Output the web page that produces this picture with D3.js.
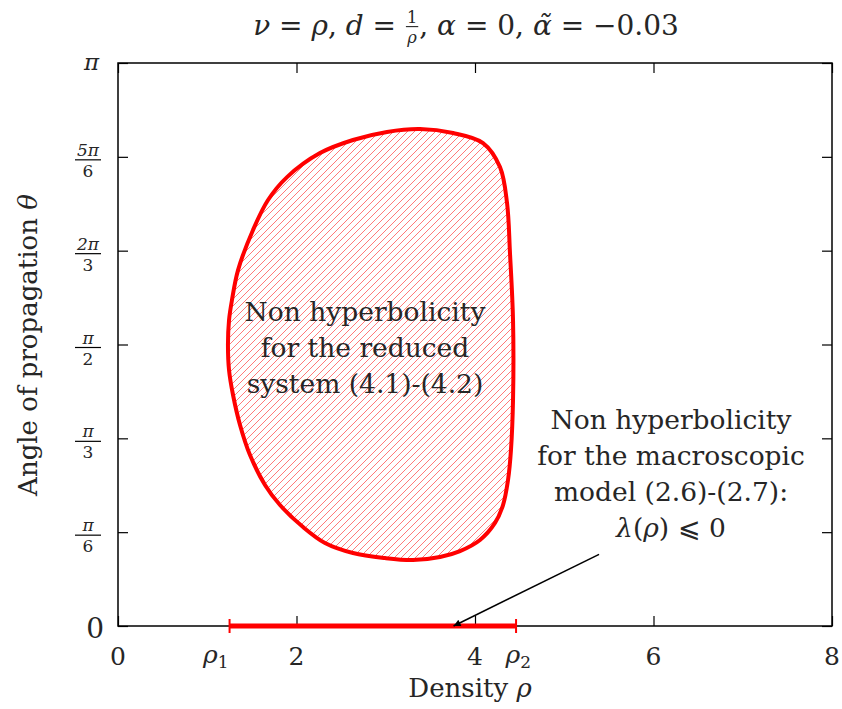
<!DOCTYPE html>
<html>
<head>
<meta charset="utf-8">
<script src="https://cdn.jsdelivr.net/npm/d3@7"></script>
<style>
  body { margin: 0; background: #fff; }
  text { font-family: "DejaVu Serif", serif; fill: #262626; white-space: pre; }
</style>
</head>
<body>
<script>
// ticks
const rhoTicks = [0, 2, 4, 6, 8]
const thetaTicks = [0, 1, 2, 3, 4, 5, 6].map(k => k * Math.PI / 6)
const thetaNum = ['0', 'π', 'π', 'π', '2π', '5π', 'π']
const thetaDen = ['', '6', '3', '2', '3', '6', '']

// boundary of the non hyperbolic region (rho, theta in rad)
const regionRho = [1.232, 1.244, 1.277, 1.345, 1.513, 1.681, 1.894, 2.263, 2.633, 3.014, 3.384, 3.754,
  4.090, 4.280, 4.359, 4.392, 4.426, 4.426, 4.403, 4.370, 4.314, 4.224, 4.056, 3.832,
  3.608, 3.305, 2.992, 2.633, 2.319, 2.073, 1.815, 1.647, 1.479, 1.367, 1.289, 1.244]
const regionTheta = [1.568, 1.707, 1.819, 1.986, 2.210, 2.377, 2.505, 2.639, 2.712, 2.757, 2.773, 2.751,
  2.695, 2.561, 2.360, 2.081, 1.707, 1.261, 0.982, 0.815, 0.675, 0.575, 0.480, 0.418,
  0.385, 0.368, 0.379, 0.407, 0.463, 0.552, 0.675, 0.787, 0.954, 1.122, 1.289, 1.428]

// lambda(rho) <= 0 interval
const barRho = [1.25, 4.46]
const barSubs = ['1', '2']

const arrowFrom = [5.39, 0.40]
const arrowTo = [3.76, 0]

const regionText = ['Non hyperbolicity', 'for the reduced', 'system (4.1)-(4.2)']
const noteText = ['Non hyperbolicity', 'for the macroscopic', 'model (2.6)-(2.7):']

const W = 842, H = 709
const svg = d3.select('body').append('svg').attr('width', W).attr('height', H)

const x = d3.scaleLinear().domain([0, 8]).range([118, 832])
const y = d3.scaleLinear().domain([0, Math.PI]).range([626, 63])

const defs = svg.append('defs')
defs.append('pattern')
  .attr('id', 'hatch')
  .attr('patternUnits', 'userSpaceOnUse')
  .attr('width', 7).attr('height', 7)
  .append('path')
  .attr('d', 'M-1,1 l2,-2 M0,7 l7,-7 M6,8 l2,-2')
  .attr('stroke', '#ff7a7a')
  .attr('stroke-width', 1)

defs.append('marker')
  .attr('id', 'arrow')
  .attr('viewBox', '0 0 10 10')
  .attr('refX', 10).attr('refY', 5)
  .attr('markerWidth', 13).attr('markerHeight', 7)
  .attr('markerUnits', 'userSpaceOnUse')
  .attr('orient', 'auto')
  .append('path')
  .attr('d', 'M0,0 L10,5 L0,10 z')
  .attr('fill', '#000')

// region
const pts = regionRho.map((r, i) => [r, regionTheta[i]])
const line = d3.line()
  .x(d => x(d[0]))
  .y(d => y(d[1]))
  .curve(d3.curveCatmullRomClosed.alpha(0.5))

svg.append('path')
  .attr('d', line(pts))
  .attr('fill', 'url(#hatch)')
  .attr('stroke', '#ff0000')
  .attr('stroke-width', 4)

// frame + inward ticks
svg.append('rect')
  .attr('x', x(0)).attr('y', y(Math.PI))
  .attr('width', x(8) - x(0)).attr('height', y(0) - y(Math.PI))
  .attr('fill', 'none').attr('stroke', '#000').attr('stroke-width', 1.5)

const axes = [
  [d3.axisBottom(x).tickValues(rhoTicks), `translate(0,${y(0)})`],
  [d3.axisTop(x).tickValues(rhoTicks), `translate(0,${y(Math.PI)})`],
  [d3.axisLeft(y).tickValues(thetaTicks), `translate(${x(0)},0)`],
  [d3.axisRight(y).tickValues(thetaTicks), `translate(${x(8)},0)`]
]
axes.forEach(([ax, tr]) => {
  const g = svg.append('g').attr('transform', tr)
    .call(ax.tickSize(-10).tickFormat(''))
  g.select('.domain').remove()
  g.selectAll('line').attr('stroke', '#000').attr('stroke-width', 1.2)
})

// x tick labels
svg.append('g').selectAll('text')
  .data(rhoTicks)
  .join('text')
  .attr('x', d => x(d))
  .attr('y', 665)
  .attr('text-anchor', 'middle')
  .attr('font-size', 25)
  .text(d => d)

// rho1, rho2 labels
barRho.forEach((r, i) => {
  const t = svg.append('text')
    .attr('x', i === 0 ? x(r) - 1 : x(r) + 15)
    .attr('y', 663)
    .attr('text-anchor', 'end')
    .attr('font-size', 25)
  t.append('tspan').style('font-style', 'italic').text('ρ')
  t.append('tspan').attr('font-size', 17).attr('dy', 5).text(barSubs[i])
})

// y tick labels (fractions)
thetaTicks.forEach((v, i) => {
  const ty = y(v)
  if (thetaDen[i] === '') {
    svg.append('text')
      .attr('x', i === 0 ? 104 : 99)
      .attr('y', i === 0 ? ty + 12 : ty + 7)
      .attr('text-anchor', 'end')
      .attr('font-size', i === 0 ? 28 : 23)
      .style('font-style', i === 0 ? null : 'italic')
      .text(thetaNum[i])
  } else {
    const cx = 88
    svg.append('text')
      .attr('x', cx).attr('y', ty - 1)
      .attr('text-anchor', 'middle')
      .attr('font-size', 17)
      .style('font-style', 'italic')
      .text(thetaNum[i])
    svg.append('line')
      .attr('x1', cx - 13).attr('x2', cx + 13)
      .attr('y1', ty + 3).attr('y2', ty + 3)
      .attr('stroke', '#000').attr('stroke-width', 1.2)
    svg.append('text')
      .attr('x', cx).attr('y', ty + 20)
      .attr('text-anchor', 'middle')
      .attr('font-size', 17)
      .text(thetaDen[i])
  }
})

// axis titles
const xt = svg.append('text')
  .attr('x', 470).attr('y', 697)
  .attr('text-anchor', 'middle')
  .attr('font-size', 26)
xt.append('tspan').text('Density ')
xt.append('tspan').style('font-style', 'italic').text('ρ')

const yt = svg.append('text')
  .attr('transform', 'translate(37,345) rotate(-90)')
  .attr('text-anchor', 'middle')
  .attr('font-size', 26)
yt.append('tspan').text('Angle of propagation ')
yt.append('tspan').style('font-style', 'italic').text('θ')

// title, laid out piece by piece
function mathLine(pieces, cx, base, size) {
  const g = svg.append('g')
  let cur = 0
  pieces.forEach(p => {
    if (p.frac) {
      const fs = size * 0.58
      const n = g.append('text').attr('font-size', fs).attr('text-anchor', 'middle')
        .attr('y', base - size * 0.44).text(p.frac[0])
      const d = g.append('text').attr('font-size', fs).attr('text-anchor', 'middle')
        .style('font-style', 'italic')
        .attr('y', base + size * 0.3).text(p.frac[1])
      const w = Math.max(n.node().getComputedTextLength(), d.node().getComputedTextLength()) + 4
      n.attr('x', cur + w / 2)
      d.attr('x', cur + w / 2)
      g.append('line')
        .attr('x1', cur + 1).attr('x2', cur + w - 1)
        .attr('y1', base - size * 0.3).attr('y2', base - size * 0.3)
        .attr('stroke', '#262626').attr('stroke-width', 1.1)
      cur += w
    } else {
      const t = g.append('text').attr('x', cur).attr('y', base)
        .attr('font-size', size)
        .style('font-style', p.it ? 'italic' : null)
        .text(p.t)
      cur += t.node().getComputedTextLength()
    }
  })
  g.attr('transform', `translate(${cx - cur / 2},0)`)
}

mathLine([
  { t: 'ν', it: true }, { t: ' = ' }, { t: 'ρ', it: true }, { t: ', ' },
  { t: 'd', it: true }, { t: ' = ' }, { frac: ['1', 'ρ'] }, { t: ', ' },
  { t: 'α', it: true }, { t: ' = 0, ' },
  { t: 'α\u0303', it: true }, { t: ' = −0.03' }
], 466, 35, 28)

// text inside the region
svg.append('g').selectAll('text')
  .data(regionText)
  .join('text')
  .attr('x', 365)
  .attr('y', (d, i) => 321 + i * 36)
  .attr('text-anchor', 'middle')
  .attr('font-size', 26.5)
  .text(d => d)

// note for the macroscopic model
svg.append('g').selectAll('text')
  .data(noteText)
  .join('text')
  .attr('x', 671)
  .attr('y', (d, i) => 429 + i * 36)
  .attr('text-anchor', 'middle')
  .attr('font-size', 26.5)
  .text(d => d)

const lam = svg.append('text')
  .attr('x', 671).attr('y', 537)
  .attr('text-anchor', 'middle')
  .attr('font-size', 26.5)
lam.append('tspan').style('font-style', 'italic').text('λ')
lam.append('tspan').text('(')
lam.append('tspan').style('font-style', 'italic').text('ρ')
lam.append('tspan').text(') ⩽ 0')

// the interval on the axis
svg.append('line')
  .attr('x1', x(barRho[0])).attr('x2', x(barRho[1]))
  .attr('y1', y(0)).attr('y2', y(0))
  .attr('stroke', '#ff0000').attr('stroke-width', 5)
svg.selectAll('line.cap')
  .data(barRho)
  .join('line')
  .attr('class', 'cap')
  .attr('x1', d => x(d)).attr('x2', d => x(d))
  .attr('y1', y(0) - 7).attr('y2', y(0) + 7)
  .attr('stroke', '#ff0000').attr('stroke-width', 2)

svg.append('line')
  .attr('x1', x(arrowFrom[0])).attr('y1', y(arrowFrom[1]))
  .attr('x2', x(arrowTo[0])).attr('y2', y(arrowTo[1]))
  .attr('stroke', '#000').attr('stroke-width', 1.5)
  .attr('marker-end', 'url(#arrow)')
</script>
</body>
</html>
